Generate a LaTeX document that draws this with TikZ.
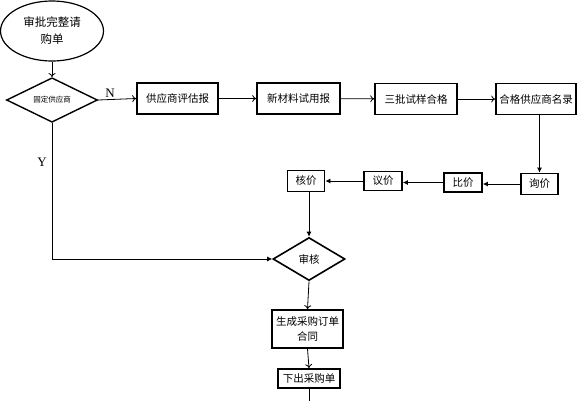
\documentclass[tikz,border=0pt]{standalone}
\usepackage{fontspec}
\setmainfont{Liberation Serif}
\newfontfamily\cjk{Noto Sans CJK SC}
\usetikzlibrary{shapes.geometric,arrows.meta}
\begin{document}
\begin{tikzpicture}[x=1pt,y=-1pt,
  box/.style={draw,line width=1.6pt,minimum height=31pt,inner sep=2pt,font=\cjk\fontsize{10.5}{13}\selectfont},
  sbox/.style={draw,line width=1.8pt,minimum height=19pt,inner sep=1pt,font=\cjk\fontsize{10.5}{13}\selectfont},
  openarr/.style={line width=0.8pt,-{To[length=4pt,width=7pt]}},
  fillarr/.style={line width=0.8pt,-{Latex[length=5pt,width=5pt]}},
  lbl/.style={font=\fontsize{13}{15}\selectfont}]
\useasboundingbox (0,0) rectangle (577,400);
\node[ellipse,draw,line width=1.2pt,minimum width=103pt,minimum height=60pt,inner sep=0pt,align=center,font=\cjk\fontsize{11.5}{17}\selectfont] (start) at (52,31) {审批完整请\\购单};
\node[diamond,draw,line width=1.4pt,minimum width=91pt,minimum height=44pt,inner sep=0pt,font=\cjk\fontsize{7.5}{9}\selectfont] (d1) at (52,100) {固定供应商};
\node[box,minimum width=81pt] (b1) at (177.5,98.5) {供应商评估报};
\node[box,minimum width=83pt] (b2) at (298.5,98.5) {新材料试用报};
\node[box,minimum width=82pt] (b3) at (416,99) {三批试样合格};
\node[box,minimum width=80pt] (b4) at (536,99) {合格供应商名录};
\node[sbox,minimum width=37pt,minimum height=21pt] (x1) at (306,181) {核价};
\node[sbox,minimum width=38pt] (x2) at (383,181) {议价};
\node[sbox,minimum width=38pt] (x3) at (463,182.5) {比价};
\node[sbox,minimum width=37pt,minimum height=21pt] (x4) at (539.5,184) {询价};
\node[diamond,draw,line width=1.6pt,minimum width=72pt,minimum height=43pt,inner sep=0pt,font=\cjk\fontsize{10.5}{13}\selectfont] (sh) at (309,259) {审核};
\node[box,minimum width=71pt,minimum height=38pt,align=center,font=\cjk\fontsize{10.5}{15}\selectfont] (g) at (307.5,329) {生成采购订单\\合同};
\node[sbox,minimum width=62pt] (xc) at (309,378.5) {下出采购单};
\coordinate (end) at (309,402);
\node[lbl] (N) at (110,93) {N};
\node[lbl] (Y) at (42,162) {Y};
\draw[openarr] (start.south) -- (d1.north);
\draw[openarr] (d1.east) -- (b1.west);
\draw[openarr] (b1) -- (b2);
\draw[openarr] (b2) -- (b3);
\draw[openarr] (b3) -- (b4);
\draw[fillarr] (x4.north |- b4.south) -- (x4.north);
\draw[fillarr] (x4.west) -- (x4.west -| x3.east);
\draw[fillarr] (x3.west) -- (x3.west -| x2.east);
\draw[fillarr] (x2.west) -- (x2.west -| x1.east);
\draw[fillarr] (sh.north |- x1.south) -- (sh.north);
\draw[fillarr] (d1.south) |- (sh.west);
\draw[openarr] (sh.south) -- (g.north);
\draw[openarr] (g.south) -- (xc.north);
\draw[line width=0.8pt] (xc.south) -- (end);
\end{tikzpicture}
\end{document}
